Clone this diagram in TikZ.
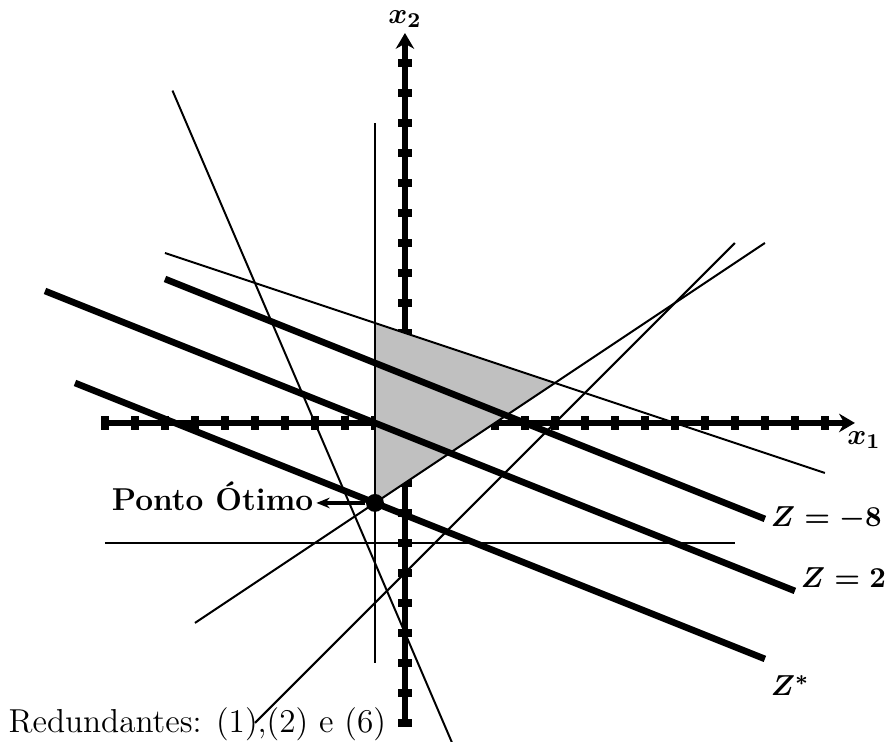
\documentclass[tikz,border=0pt]{standalone}
\usepackage{fontspec}
\usepackage{amsmath}
\usetikzlibrary{arrows.meta,positioning}
\definecolor{regiao}{RGB}{192,192,192}

\begin{document}
\begin{tikzpicture}[x=0.4cm,y=0.4cm,>={Stealth[length=6pt,width=7pt]},
  eixo/.style={line width=2.3pt},
  marca/.style={line width=2.8pt},
  restr/.style={line width=0.75pt},
  zline/.style={line width=2.5pt},
  zlabel/.style={font=\fontsize{11}{13}\selectfont\boldmath,inner sep=1pt}]
\useasboundingbox (-13.5,-10.63) rectangle (16.17,14.1);
% eixos
\draw[eixo,->] (-10,0) -- (15,0) node[zlabel,below right,xshift=-5pt,yshift=-1pt] (x1) {$x_1$};
\draw[eixo,->] (0,-10) -- (0,13) node[zlabel,above] (x2) {$x_2$};
\foreach \i in {-10,...,14} \draw[marca] (\i,-0.22) -- (\i,0.22);
\foreach \j in {-10,...,12} \draw[marca] (-0.22,\j) -- (0.22,\j);
% regiao viavel
\fill[regiao] (-1,10/3) -- (5,4/3) -- (-1,-8/3) -- cycle;
% restricoes
\draw[restr] (-1,-8) -- (-1,10);
\draw[restr] (-10,-4) -- (11,-4);
\draw[restr] (-8,17/3) -- (14,-5/3);
\draw[restr] (-7,-20/3) -- (12,6);
\draw[restr] (-5,-10) -- (11,6);
\draw[restr] (-7.75,11.08) -- (1.6,-10.73);
% funcao objetivo
\draw[zline] (-8,4.8) -- (12,-3.2) node[zlabel,right] (z8) {$Z=-8$};
\draw[zline] (-12,4.4) -- (13,-5.6) node[zlabel,right,yshift=5pt] (z2) {$Z=2$};
\draw[zline] (-11,4/3) -- (12,-118/15) node[zlabel,below right,yshift=-4pt] (zs) {$Z^*$};
% ponto otimo
\node[circle,fill,inner sep=0pt,minimum size=6.8pt] (otimo) at (-1,-8/3) {};
\node[anchor=east,font=\large\bfseries,inner sep=1pt] (ponto) at (-2.95,-2.45) {Ponto Ótimo};
\draw[->,line width=1.5pt,>={Stealth[length=5pt,width=4pt]}] (otimo) -- (ponto.east |- otimo);
\node[anchor=base west,font=\fontsize{12.6}{15}\selectfont,inner sep=0pt] (red) at (-13.23,-10.33) {Redundantes: (1),(2) e (6)};
\end{tikzpicture}
\end{document}
